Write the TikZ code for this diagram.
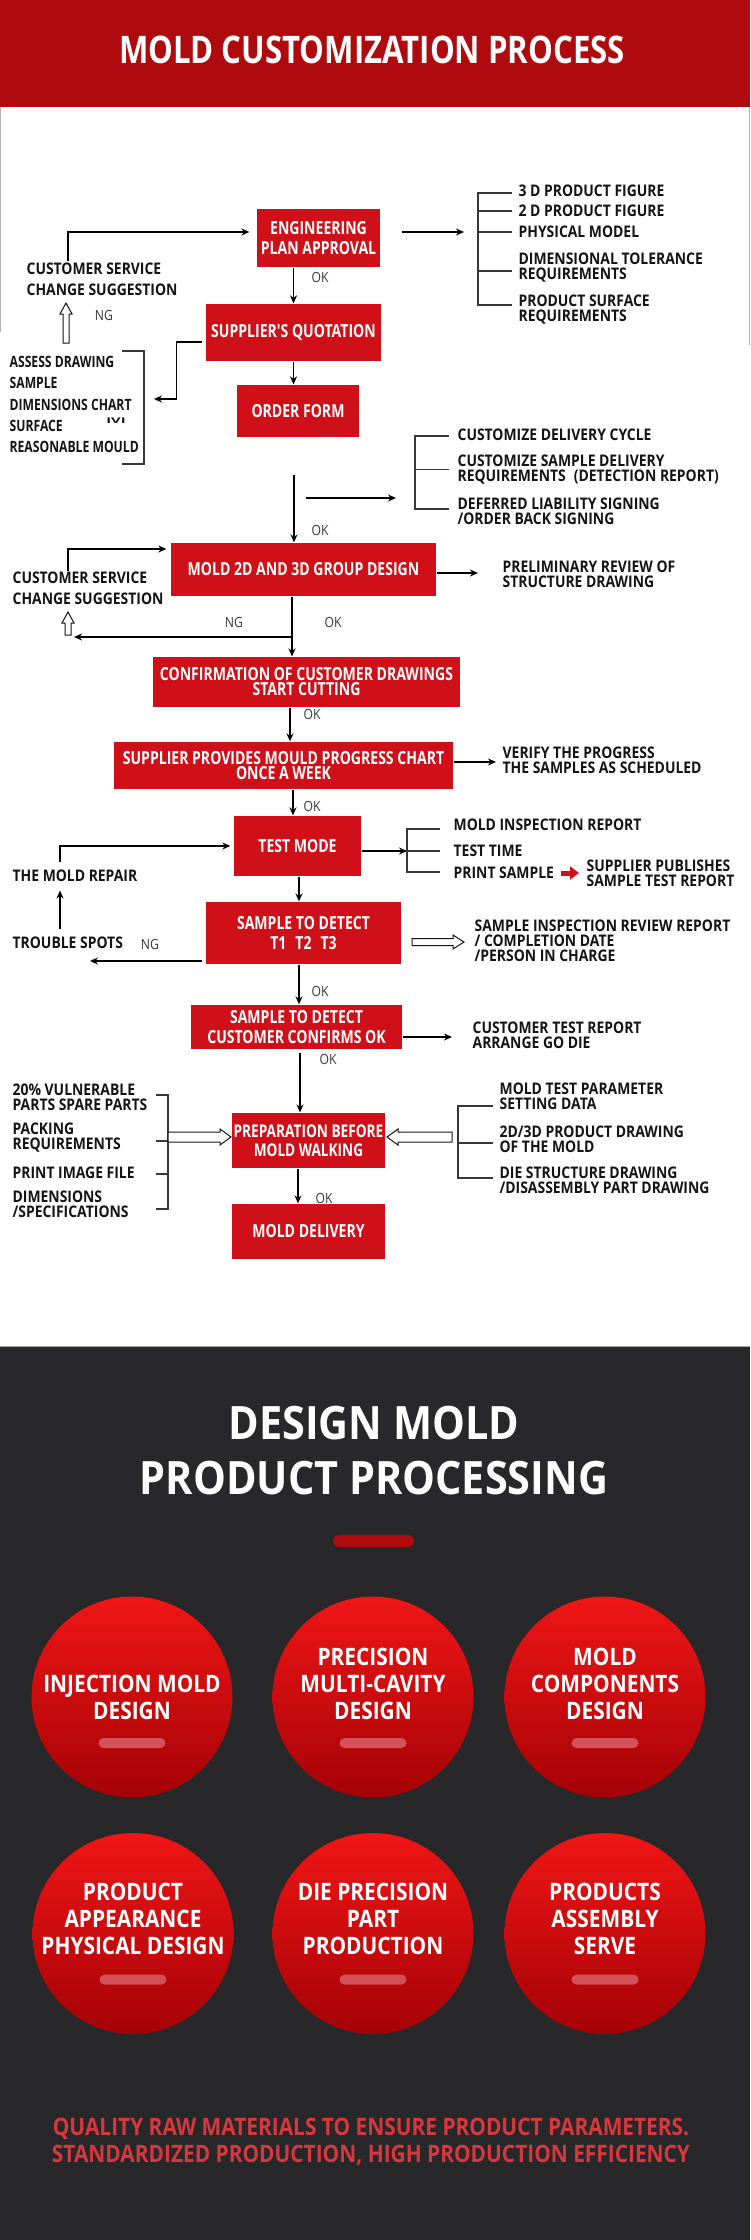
\documentclass[tikz,border=0pt]{standalone}
\usepackage{fontspec}
\setmainfont{Open Sans}[FakeStretch=0.87]
\newfontfamily\boxfont{Open Sans}[FakeStretch=0.78]
\newfontfamily\titlefont{Open Sans}[FakeStretch=0.82]
\newfontfamily\widefont{Open Sans}[FakeStretch=0.9]
\usetikzlibrary{arrows.meta,positioning}
\definecolor{barred}{RGB}{175,10,14}
\definecolor{boxred}{RGB}{208,16,24}
\definecolor{ink}{RGB}{20,20,20}
\definecolor{darkbg}{RGB}{40,40,42}
\definecolor{ballhi}{RGB}{240,22,22}
\definecolor{balllo}{RGB}{165,2,6}
\definecolor{pill}{RGB}{212,80,90}
\definecolor{capred}{RGB}{214,56,62}
\newcommand{\fsz}[2]{\fontsize{#1}{#2}\selectfont}
\tikzset{
  pics/hollow/.style args={#1/#2/#3}{code={
    \draw[line width=1pt,draw=ink,fill=white] (0,-#2) -- ({#1-11},-#2) -- ({#1-11},-#3) -- (#1,0)
      -- ({#1-11},#3) -- ({#1-11},#2) -- (0,#2) -- cycle;}}
}
\begin{document}
\begin{tikzpicture}[x=1pt,y=-1pt,line width=1.3pt,>={Stealth[length=8pt,width=7pt]},
  box/.style={fill=boxred,text=white,font=\boxfont\bfseries\fsz{18}{20},align=center,inner sep=0pt},
  item/.style={text=ink,font=\bfseries\fsz{16}{15},align=left,anchor=west,inner sep=0pt},
  note/.style={text=ink!85,font=\fsz{14}{14},inner sep=0pt},
  brace/.style={line width=1.1pt,draw=ink!85},
  ball/.style={circle,minimum size=201pt,inner sep=0pt,top color=ballhi,bottom color=balllo},
  balltxt/.style={text=white,font=\bfseries\fsz{24}{27},align=center,anchor=south,inner sep=0pt},
  pillbar/.style={fill=pill,rounded corners=5pt,minimum width=67pt,minimum height=10pt,inner sep=0pt}]
\useasboundingbox (0,0) rectangle (750,2240);
\fill[white] (0,0) rectangle (750,2240);
\fill[barred] (0,0) rectangle (750,107);
\node[text=white,font=\titlefont\bfseries\fsz{38}{40}] (title) at (372,50) {MOLD CUSTOMIZATION PROCESS};
\draw[gray!60,line width=1pt] (0.5,107) -- (0.5,332) (749.5,107) -- (749.5,345);

% main flow
\node[box,minimum width=123pt,minimum height=58pt] (eng) at (318.5,238) {ENGINEERING\\PLAN APPROVAL};
\node[box,minimum width=175pt,minimum height=57pt] (quote) at (293.5,332.5) {SUPPLIER'S QUOTATION};
\node[box,minimum width=122pt,minimum height=52pt] (order) at (298,411) {ORDER FORM};
\node[box,minimum width=265pt,minimum height=53pt] (mold) at (303.5,569.5) {MOLD 2D AND 3D GROUP DESIGN};
\node[box,minimum width=307pt,minimum height=50pt,font=\boxfont\bfseries\fsz{18}{15}] (confirm) at (306.5,682) {CONFIRMATION OF CUSTOMER DRAWINGS\\START CUTTING};
\node[box,minimum width=339pt,minimum height=47pt,font=\boxfont\bfseries\fsz{18}{15}] (progress) at (283.5,765.5) {SUPPLIER PROVIDES MOULD PROGRESS CHART\\ONCE A WEEK};
\node[box,minimum width=127pt,minimum height=60pt] (test) at (297.5,846) {TEST MODE};
\node[box,minimum width=195pt,minimum height=62pt] (detect) at (303.5,933) {SAMPLE TO DETECT\\T1\enspace T2\enspace T3};
\node[box,minimum width=211pt,minimum height=44pt] (confirmok) at (296.5,1027) {SAMPLE TO DETECT\\CUSTOMER CONFIRMS OK};
\node[box,minimum width=153pt,minimum height=55pt,font=\boxfont\bfseries\fsz{17.5}{19}] (prep) at (308.5,1140.5) {PREPARATION BEFORE\\MOLD WALKING};
\node[box,minimum width=153pt,minimum height=55pt] (deliver) at (308.5,1231.5) {MOLD DELIVERY};

\coordinate (c1) at (294,475);
\coordinate (c2) at (292,637);
\coordinate (c4) at (300,1053);
\coordinate (x3) at (290,0);
\coordinate (x4) at (293,0);
\coordinate (x5) at (299,0);
\coordinate (x6) at (298,0);
\draw[->] (quote.north |- eng.south) -- (quote.north);
\draw[->] (quote.south) -- (quote.south |- order.north);
\draw[->] (c1) -- (c1 |- mold.north);
\draw[->] (c2 |- mold.south) -- (c2 |- confirm.north);
\draw[->] (x3 |- confirm.south) -- (x3 |- progress.north);
\draw[->] (x4 |- progress.south) -- (x4 |- test.north);
\draw[->] (x5 |- test.south) -- (x5 |- detect.north);
\draw[->] (x5 |- detect.south) -- (x5 |- confirmok.north);
\draw[->] (c4) -- (c4 |- prep.north);
\draw[->] (x6 |- prep.south) -- (x6 |- deliver.north);

\node[note] (ok1) at (320,277) {OK};
\node[note] (ok2) at (320,530) {OK};
\node[note] (ng2) at (234,622) {NG};
\node[note] (ok3) at (333,622) {OK};
\node[note] (ok4) at (312,714) {OK};
\node[note] (ok5) at (312,806) {OK};
\node[note] (ok6) at (320,991) {OK};
\node[note] (ok7) at (328,1059) {OK};
\node[note] (ok8) at (324,1198) {OK};

% top right list
\node[item] (t1) at (518,191) {3 D PRODUCT FIGURE};
\node[item] (t2) at (518,211) {2 D PRODUCT FIGURE};
\node[item] (t3) at (518,232) {PHYSICAL MODEL};
\node[item] (t4) at (518,267.5) {DIMENSIONAL TOLERANCE\\REQUIREMENTS};
\node[item] (t5) at (518,310) {PRODUCT SURFACE\\REQUIREMENTS};
\draw[->] ([xshift=21pt,yshift=6pt]eng.east) -- ([xshift=-54pt]t3.west);
\draw[brace] ([xshift=-6pt,yshift=-2pt]t1.west) -- ++(-34,0) |- ([xshift=-6pt,yshift=5pt]t5.west);
\draw[brace] ([xshift=-6pt]t2.west) -- ++(-34,0);
\draw[brace] ([xshift=-6pt]t3.west) -- ++(-34,0);
\draw[brace] ([xshift=-6pt,yshift=-3.5pt]t4.west) -- ++(-34,0);

% customer service loop, top
\node[item,font=\bfseries\fsz{16}{21}] (cs1) at (26,279.5) {CUSTOMER SERVICE\\CHANGE SUGGESTION};
\coordinate (up1) at (68,261);
\draw[->] (up1) |- ([xshift=-7pt,yshift=6pt]eng.west);
\pic[rotate=90] at (66,343) {hollow=40/3/6};
\node[note] (ng1) at (104,315) {NG};

% quotation checks
\node[item,font=\boxfont\bfseries\fsz{15.6}{21.25}] (assess) at (9,404.5) {ASSESS DRAWING\\SAMPLE\\DIMENSIONS CHART\\SURFACE\\REASONABLE MOULD};
\node[text=ink,font=\bfseries\fsz{13}{13},inner sep=0pt] (glyph) at (116,421) {\scalebox{1.3}[0.6]{IVI}};
\coordinate (as) at (154,399);
\draw[->] ([xshift=-3pt,yshift=-9.5pt]quote.west) -- ++(-26,0) |- (as);
\draw[brace] (122,351) -| (144,464) -- (122,464);

% order terms
\node[item] (d1) at (457,435) {CUSTOMIZE DELIVERY CYCLE};
\node[item] (d2) at (457,469.5) {CUSTOMIZE SAMPLE DELIVERY\\REQUIREMENTS\enspace(DETECTION REPORT)};
\node[item] (d3) at (457,511.5) {DEFERRED LIABILITY SIGNING\\/ORDER BACK SIGNING};
\draw[->] ([xshift=12pt,yshift=-23pt]c1) -- ++(90,0);
\draw[brace] ([xshift=-8pt,yshift=-1pt]d1.west) -- ++(-34,0) |- ([xshift=-8pt,yshift=2.5pt]d3.west);
\draw[brace] ([xshift=-8pt]d2.west) -- ++(-34,0);

% design stage
\node[item] (pr) at (502,574) {PRELIMINARY REVIEW OF\\STRUCTURE DRAWING};
\draw[->] ([yshift=-3.5pt]mold.east) -- ([xshift=-24pt,yshift=1pt]pr.west);
\node[item,font=\bfseries\fsz{16}{21}] (cs2) at (12,588.5) {CUSTOMER SERVICE\\CHANGE SUGGESTION};
\coordinate (up2) at (68,571);
\draw[->] (up2) |- ([xshift=-4pt,yshift=20.5pt]mold.west);
\pic[rotate=90] at (68,635) {hollow=23/3/6};
\coordinate (back2) at (74,637);
\draw[->] (c2) -- (back2);

% progress
\node[item] (vp) at (502,760.5) {VERIFY THE PROGRESS\\THE SAMPLES AS SCHEDULED};
\draw[->] ([yshift=3.5pt]progress.east) -- ([xshift=-6pt,yshift=-1.5pt]vp.west);

% test mode
\node[item] (m1) at (453,825) {MOLD INSPECTION REPORT};
\node[item] (m2) at (453,851) {TEST TIME};
\node[item] (m3) at (453,873) {PRINT SAMPLE};
\node[item] (sp) at (586,873.5) {SUPPLIER PUBLISHES\\SAMPLE TEST REPORT};
\draw[->] ([yshift=-5pt]test.east) -- ([xshift=-46pt]m2.west);
\draw[brace] ([xshift=-13pt,yshift=-4pt]m1.west) -- ++(-33,0) |- ([xshift=-13pt,yshift=1pt]m3.west);
\draw[brace] ([xshift=-13pt]m2.west) -- ++(-33,0);
\draw[boxred,line width=5pt,-{Triangle[length=9pt,width=13pt]}] ([xshift=-25pt,yshift=0.5pt]sp.west) -- ([xshift=-7pt,yshift=0.5pt]sp.west);
\node[item] (repair) at (12,876) {THE MOLD REPAIR};
\coordinate (up3) at (60,862);
\draw[->] (up3) |- ([xshift=-3pt]test.west);

% sample detection
\node[item] (trouble) at (12,943) {TROUBLE SPOTS};
\node[note] (ng3) at (150,944) {NG};
\coordinate (rep1) at (60,929);
\draw[->,shorten >=8pt] (rep1) -- (rep1 |- repair.south);
\coordinate (ts) at (90,961);
\draw[->] ([xshift=-3pt,yshift=-28pt]detect.west) -- (ts);
\pic at (412,942) {hollow=52/3.5/7};
\node[item] (si) at (474,941) {SAMPLE INSPECTION REVIEW REPORT\\/ COMPLETION DATE\\/PERSON IN CHARGE};
\node[item] (ct) at (472,1035.5) {CUSTOMER TEST REPORT\\ARRANGE GO DIE};
\draw[->] ([yshift=-10pt]confirmok.east) -- ([xshift=-20pt,yshift=-1.5pt]ct.west);

% preparation
\node[item] (p1) at (12,1097.5) {20\% VULNERABLE\\PARTS SPARE PARTS};
\node[item] (p2) at (12,1138) {PACKING\\REQUIREMENTS};
\node[item] (p3) at (12,1173) {PRINT IMAGE FILE};
\node[item] (p4) at (12,1204.5) {DIMENSIONS\\/SPECIFICATIONS};
\draw[brace] (156,1095) -| (168,1209) -- (156,1209);
\draw[brace] (156,1141) -- (168,1141) (156,1174) -- (168,1174);
\pic at (168,1137) {hollow=63/5/8};
\node[item] (r1) at (499,1096.5) {MOLD TEST PARAMETER\\SETTING DATA};
\node[item] (r2) at (499,1139.5) {2D/3D PRODUCT DRAWING\\OF THE MOLD};
\node[item] (r3) at (499,1180) {DIE STRUCTURE DRAWING\\/DISASSEMBLY PART DRAWING};
\draw[brace] ([xshift=-6pt,yshift=-9.5pt]r1.west) -- ++(-35,0) |- ([xshift=-6pt,yshift=2pt]r3.west);
\draw[brace] ([xshift=-6pt,yshift=-3.5pt]r2.west) -- ++(-35,0);
\pic[rotate=180] at (452,1137) {hollow=65/5/8};

% dark panel
\fill[darkbg] (0,1346) rectangle (750,2240);
\draw[gray!70,line width=1pt] (0,1346.5) -- (750,1346.5);
\node[text=white,align=center,font=\widefont\bfseries\fsz{46}{55}] (dtitle) at (374,1450.5) {DESIGN MOLD\\PRODUCT PROCESSING};
\node[fill=barred,rounded corners=6pt,minimum width=81pt,minimum height=12pt,inner sep=0pt] (dbar) at (373.5,1541) {};

\node[ball] (b1) at (132,1697) {};
\node[ball] (b2) at (373,1697) {};
\node[ball] (b3) at (605,1697) {};
\node[ball] (b4) at (133,1933.5) {};
\node[ball] (b5) at (373,1933.5) {};
\node[ball] (b6) at (605,1933.5) {};
\node[balltxt] (b1t) at ([yshift=-23pt]b1.center) {INJECTION MOLD\\DESIGN};
\node[balltxt] (b2t) at ([yshift=-23pt]b2.center) {PRECISION\\MULTI-CAVITY\\DESIGN};
\node[balltxt] (b3t) at ([yshift=-23pt]b3.center) {MOLD\\COMPONENTS\\DESIGN};
\node[balltxt] (b4t) at ([yshift=-22pt]b4.center) {PRODUCT\\APPEARANCE\\PHYSICAL DESIGN};
\node[balltxt] (b5t) at ([yshift=-22pt]b5.center) {DIE PRECISION\\PART\\PRODUCTION};
\node[balltxt] (b6t) at ([yshift=-22pt]b6.center) {PRODUCTS\\ASSEMBLY\\SERVE};
\node[pillbar] (b1p) at ([yshift=-46pt]b1.center) {};
\node[pillbar] (b2p) at ([yshift=-46pt]b2.center) {};
\node[pillbar] (b3p) at ([yshift=-46pt]b3.center) {};
\node[pillbar] (b4p) at ([yshift=-46pt]b4.center) {};
\node[pillbar] (b5p) at ([yshift=-46pt]b5.center) {};
\node[pillbar] (b6p) at ([yshift=-46pt]b6.center) {};

\node[text=capred,align=center,font=\bfseries\fsz{24}{27}] (tag) at (371,2141.5) {QUALITY RAW MATERIALS TO ENSURE PRODUCT PARAMETERS.\\STANDARDIZED PRODUCTION, HIGH PRODUCTION EFFICIENCY};
\end{tikzpicture}
\end{document}
